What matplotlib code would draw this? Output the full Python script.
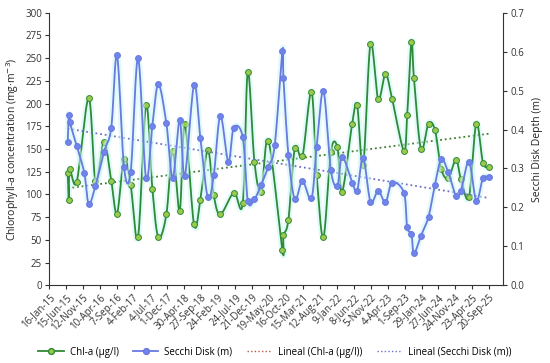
import datetime as dt

import matplotlib
matplotlib.use("Agg")
import matplotlib.dates as mdates
import matplotlib.patheffects as pe
import matplotlib.pyplot as plt
import numpy as np
from matplotlib.lines import Line2D

# sampling dates shared by both series (None = no value that day)
sample_dates = [
    "2015-07-01", "2015-07-10", "2015-07-18", "2015-09-19", "2015-11-25",
    "2016-01-03", "2016-03-03", "2016-05-18", "2016-07-21", "2016-09-10",
    "2016-11-11", "2017-01-09", "2017-03-15", "2017-05-25", "2017-07-20",
    "2017-09-11", "2017-11-21", "2018-01-16", "2018-03-19", "2018-05-03",
    "2018-07-24", "2018-09-18", "2018-11-23", "2019-01-15", "2019-03-14",
    "2019-05-24", "2019-07-11", "2019-09-29", "2019-11-12", "2020-01-10",
    "2020-03-09", "2020-05-13", "2020-07-08", "2020-09-14", "2020-09-23",
    "2020-11-06", "2021-01-02", "2021-03-10", "2021-05-29", "2021-07-14",
    "2021-09-12", "2021-11-17", "2022-01-14", "2022-02-25", "2022-05-25",
    "2022-07-08", "2022-08-30", "2022-11-03", "2023-01-10", "2023-03-16",
    "2023-05-14", "2023-08-26", "2023-09-24", "2023-11-01", "2023-11-23",
    "2024-01-24", "2024-03-31", "2024-05-27", "2024-07-22", "2024-09-22",
    "2024-11-29", "2025-01-12", "2025-03-24", "2025-05-28", "2025-07-26",
    "2025-09-14",
]

chl_a = [
    124, 94, 128, 114, None, 206, 115, 158, 115, 79,
    139, 110, 53, 198, 106, 53, 78, 148, 82, 178,
    67, 94, 149, 99, 78, None, 102, 91, 235, 136,
    103, 159, None, 38.5, 55, 72, 151, 142, 213, 121,
    53, 147, 152, 103, 178, 198, 132, 265.5, 205, 232.5,
    205, 148, 187, 268, 228, 150, 178, 171, 128, 118,
    138, 117, 97, 178, 135, 130,
]

secchi = [
    0.367, 0.437, 0.420, 0.358, 0.289, 0.210, 0.255, 0.343, 0.405, 0.591,
    0.303, 0.292, 0.583, 0.275, 0.410, 0.516, 0.416, 0.276, 0.424, 0.281,
    0.514, 0.379, 0.226, 0.283, 0.435, 0.317, 0.405, 0.380, 0.217, 0.221,
    0.258, 0.305, 0.360, 0.602, 0.532, 0.335, 0.221, 0.268, 0.223, 0.354,
    0.499, 0.296, 0.256, 0.330, 0.264, 0.243, 0.328, 0.215, 0.243, 0.213,
    0.264, 0.238, 0.149, 0.131, 0.082, 0.127, 0.176, 0.258, 0.324, 0.290,
    0.230, 0.243, 0.317, 0.217, 0.275, 0.277,
]

tick_labels = [
    "16-Jan-15", "15-Jun-15", "12-Nov-15", "10-Apr-16", "7-Sep-16",
    "4-Feb-17", "4-Jul-17", "1-Dec-17", "30-Apr-18", "27-Sep-18",
    "24-Feb-19", "24-Jul-19", "21-Dec-19", "19-May-20", "16-Oct-20",
    "15-Mar-21", "12-Aug-21", "9-Jan-22", "8-Jun-22", "5-Nov-22",
    "4-Apr-23", "1-Sep-23", "29-Jan-24", "27-Jun-24", "24-Nov-24",
    "23-Apr-25", "20-Sep-25",
]

plt.rcParams["font.family"] = ["Open Sans", "DejaVu Sans"]

CHL_LINE = "#2f8a35"
CHL_FACE = "#9bc94a"
SEC_LINE = "#6a78e0"
SEC_FACE = "#6f85ec"
GLOW = "#c9f6f6"


def pick(dates, values):
    """Drop the days where a series has no value."""
    pairs = [(d, v) for d, v in zip(dates, values) if v is not None]
    xs = mdates.date2num([dt.datetime.strptime(d, "%Y-%m-%d") for d, _ in pairs])
    ys = np.array([v for _, v in pairs], dtype=float)
    return xs, ys


def smooth(xs, ys, xlim, ylim, w=454.0, h=272.6, steps=16):
    """Smoothed line through the points (Catmull-Rom, done in screen units)."""
    px = (xs - xlim[0]) / (xlim[1] - xlim[0]) * w
    py = (ys - ylim[0]) / (ylim[1] - ylim[0]) * h
    pts = np.column_stack([px, py])
    pad = np.vstack([pts[0], pts, pts[-1]])
    out = [pts[0]]
    t = np.linspace(0, 1, steps)[1:, None]
    for i in range(1, len(pad) - 2):
        p0, p1, p2, p3 = pad[i - 1], pad[i], pad[i + 1], pad[i + 2]
        c1 = p1 + (p2 - p0) / 6.0
        c2 = p2 - (p3 - p1) / 6.0
        seg = ((1 - t) ** 3) * p1 + 3 * ((1 - t) ** 2) * t * c1 \
            + 3 * (1 - t) * t ** 2 * c2 + t ** 3 * p2
        out.extend(seg)
    out = np.array(out)
    return (out[:, 0] / w * (xlim[1] - xlim[0]) + xlim[0],
            out[:, 1] / h * (ylim[1] - ylim[0]) + ylim[0])


x_start = mdates.date2num(dt.datetime(2015, 1, 16))
xlim = (x_start, x_start + 4024)
ylim1 = (0, 300)
ylim2 = (0, 0.7)

fig = plt.figure(figsize=(5.5, 3.63), dpi=100)
ax = fig.add_axes([0.089, 0.214, 0.826, 0.751])
ax2 = ax.twinx()

glow = [pe.Stroke(linewidth=4.5, foreground=GLOW, alpha=0.55), pe.Normal()]

# Chl-a series on left axis
cx, cy = pick(sample_dates, chl_a)
sx, sy = smooth(cx, cy, xlim, ylim1)
ax.plot(sx, sy, color=CHL_LINE, lw=1.3, path_effects=glow, zorder=3)
ax.plot(cx, cy, ls="none", marker="o", ms=4.2, mfc=CHL_FACE, mec=CHL_LINE,
        mew=0.7, zorder=4)
k1 = np.polyfit(cx, cy, 1)
ax.plot([cx[0], cx[-1]], np.polyval(k1, [cx[0], cx[-1]]), color="#3f7d2e",
        ls=(0, (1, 1.6)), lw=1.3, zorder=2)

# Secchi depth series on right axis
bx, by = pick(sample_dates, secchi)
sx, sy = smooth(bx, by, xlim, ylim2)
ax2.plot(sx, sy, color=SEC_LINE, lw=1.3, path_effects=glow, zorder=3)
ax2.plot(bx, by, ls="none", marker="o", ms=4.2, mfc=SEC_FACE, mec=SEC_LINE,
         mew=0.7, zorder=4)
k2 = np.polyfit(bx, by, 1)
ax2.plot([bx[0], bx[-1]], np.polyval(k2, [bx[0], bx[-1]]), color="#6d72c6",
         ls=(0, (1, 1.6)), lw=1.3, zorder=2)

ax.set_xlim(*xlim)
ax.set_ylim(*ylim1)
ax2.set_ylim(*ylim2)

ticks = mdates.date2num([dt.datetime.strptime(t, "%d-%b-%y") for t in tick_labels])
ax.set_xticks(ticks)
ax.set_xticklabels(tick_labels, rotation=45, ha="right", rotation_mode="anchor",
                   fontsize=7)
ax.set_yticks(np.arange(0, 301, 25))
ax2.set_yticks(np.arange(0, 0.71, 0.1))
ax2.set_yticklabels([f"{v:.1f}" for v in np.arange(0, 0.71, 0.1)])

for a in (ax, ax2):
    a.tick_params(labelsize=7, length=3, width=0.8, color="#333333",
                  labelcolor="#333333", pad=2)
    a.spines["top"].set_visible(False)
ax.spines["right"].set_visible(False)
ax2.spines["left"].set_visible(False)
ax2.spines["bottom"].set_visible(False)
ax.spines["left"].set_color("#333333")
ax.spines["bottom"].set_color("#333333")
ax2.spines["right"].set_color("#333333")

ax.set_ylabel("Chlorophyll-a concentration (mg·m$^{-3}$)", fontsize=7.5,
              color="#222222", labelpad=3)
ax2.set_ylabel("Secchi Disk Depth (m)", fontsize=7.5, color="#222222",
               labelpad=6)

handles = [
    Line2D([], [], color=CHL_LINE, lw=1.3, marker="o", ms=4.2, mfc=CHL_FACE,
           mec=CHL_LINE),
    Line2D([], [], color=SEC_LINE, lw=1.3, marker="o", ms=4.2, mfc=SEC_FACE,
           mec=SEC_LINE),
    Line2D([], [], color="#b55a4a", lw=1.0, ls=(0, (1, 1.6))),
    Line2D([], [], color="#6d72c6", lw=1.0, ls=(0, (1, 1.6))),
]
labels = ["Chl-a (µg/l)", "Secchi Disk (m)", "Lineal (Chl-a (µg/l))",
          "Lineal (Secchi Disk (m))"]
fig.legend(handles, labels, loc="center", bbox_to_anchor=(0.5, 0.03), ncol=4,
           frameon=False, fontsize=7, handlelength=2.6, columnspacing=1.5,
           handletextpad=0.6)

fig.savefig("out.png", dpi=100)
